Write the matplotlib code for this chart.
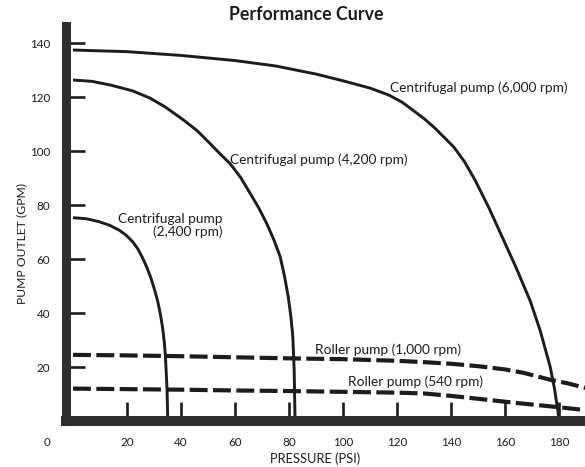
import matplotlib
matplotlib.use("Agg")
import matplotlib.pyplot as plt

# ---- data ----
title = "Performance Curve"
x_label = "PRESSURE (PSI)"
y_label = "PUMP OUTLET (GPM)"
x_ticks = [20, 40, 60, 80, 100, 120, 140, 160, 180]
y_ticks = [20, 40, 60, 80, 100, 120, 140]

c6000_x = [0, 20, 40, 60, 75, 90, 100, 110, 117, 122, 126, 130, 134, 138, 141, 145, 149, 154, 159, 164, 169.3, 173, 176.7, 178.3, 179.7, 180]
c6000_y = [137.4, 136.8, 135.4, 133.5, 131.5, 128.5, 126, 123.3, 120.7, 118, 115, 112, 108.5, 104.5, 101.5, 96, 89, 79, 68, 57, 44.5, 33.5, 20.1, 12, 2.8, 0]

c4200_x = [0, 7, 14, 22, 28.5, 34, 40.9, 46, 50.7, 54.5, 58.1, 62, 65.6, 68.8, 71.7, 74.3, 76.7, 78.3, 79.7, 80.7, 81.4, 81.9, 82.2]
c4200_y = [126.3, 125.8, 124.4, 122.3, 119.6, 116.4, 111.5, 107.5, 102.8, 98.9, 95.4, 90.3, 84.3, 78.9, 73.2, 67.3, 60.9, 53.7, 46, 38.5, 31.2, 18.9, 1.6]

c2400_x = [0, 5, 9.7, 13.5, 17.1, 19.8, 22.1, 24.1, 25.8, 27.4, 28.9, 30.2, 31.4, 32.4, 33.2, 33.8, 34.2, 34.8, 35.1]
c2400_y = [75.3, 74.9, 73.8, 72.5, 70.7, 68.7, 66.4, 63.6, 60.3, 56.8, 52.8, 48.6, 44.2, 39.3, 34.3, 29.3, 24.4, 12.1, 0]

r1000_x = [0, 20, 40, 60, 80, 100, 120, 130, 140, 150, 160, 167, 177, 183, 190]
r1000_y = [24.5, 24.3, 24, 23.6, 23.2, 22.9, 22.3, 21.8, 21.2, 20.3, 19.1, 17.8, 15.2, 14, 12.2]

r540_x = [0, 20, 40, 60, 80, 100, 120, 130, 140, 154, 165, 179, 190]
r540_y = [12, 11.8, 11.6, 11.3, 11.1, 10.8, 10.5, 10.2, 9.3, 7.8, 6.6, 5.2, 4]

labels = {
    "c6000": "Centrifugal pump (6,000 rpm)",
    "c4200": "Centrifugal pump (4,200 rpm)",
    "c2400": "Centrifugal pump\n(2,400 rpm)",
    "r1000": "Roller pump (1,000 rpm)",
    "r540": "Roller pump (540 rpm)",
}

# ---- style ----
plt.rcParams['font.family'] = ['Lato', 'DejaVu Sans']
ink = '#1c1c1c'
spine_c = '#2e2e2e'

fig = plt.figure(figsize=(5.85, 4.67), dpi=100)
ax = fig.add_axes([66 / 585, 46 / 467, 1 - 66 / 585, (441 - 46) / 467])
ax.set_xlim(-2.6, 189.6)
ax.set_ylim(0, 146.3)

solid_lw = 2.1
for xs, ys in [(c6000_x, c6000_y), (c4200_x, c4200_y), (c2400_x, c2400_y)]:
    ax.plot(xs, ys, color=ink, lw=solid_lw, solid_capstyle='butt',
            solid_joinstyle='round', clip_on=False, zorder=3)

dash = (0, (4.3, 1.3))
for xs, ys in [(r1000_x, r1000_y), (r540_x, r540_y)]:
    ax.plot(xs, ys, color=ink, lw=3.0, linestyle=dash, dash_capstyle='butt', zorder=3)

for s in ['top', 'right']:
    ax.spines[s].set_visible(False)
ax.spines['left'].set_linewidth(6.5)
ax.spines['bottom'].set_linewidth(7.2)
ax.spines['left'].set_color(spine_c)
ax.spines['bottom'].set_color(spine_c)
ax.spines['left'].set_zorder(4)
ax.spines['bottom'].set_zorder(4)

ax.set_xticks(x_ticks)
ax.set_yticks(y_ticks)
ax.set_xticklabels([str(v) for v in x_ticks])
ax.set_yticklabels([str(v) for v in y_ticks])
ax.tick_params(axis='both', direction='in', length=14, width=1.9, color=ink,
               labelsize=8.4, labelcolor=ink, pad=11.5)

# corner zero label
fig.text(47 / 585, 1 - 442 / 467, "0", ha='center', va='center', fontsize=8.4, color=ink)

fs = 9.8
ax.text(117.4, 123.3, labels["c6000"], ha='left', va='center', fontsize=fs, color=ink)
ax.text(58.1, 96.7, labels["c4200"], ha='left', va='center', fontsize=fs, color=ink)
ax.text(55.4, 72.4, labels["c2400"], ha='right', va='center', fontsize=fs, color=ink,
        linespacing=1.05, multialignment='right')
ax.text(89.6, 26.3, labels["r1000"], ha='left', va='center', fontsize=fs, color=ink)
ax.text(101.9, 14.4, labels["r540"], ha='left', va='center', fontsize=fs, color=ink)

fig.text(306 / 585, 1 - 14 / 467, title, ha='center', va='center', fontsize=12.8,
         fontweight='bold', color=ink)
fig.text(315 / 585, 1 - 459 / 467, x_label, ha='center', va='center', fontsize=9.3, color=ink)
fig.text(22 / 585, 1 - 244 / 467, y_label, ha='center', va='center', fontsize=8.7,
         rotation=90, color=ink)

fig.savefig("out.png", dpi=100, facecolor='white')
